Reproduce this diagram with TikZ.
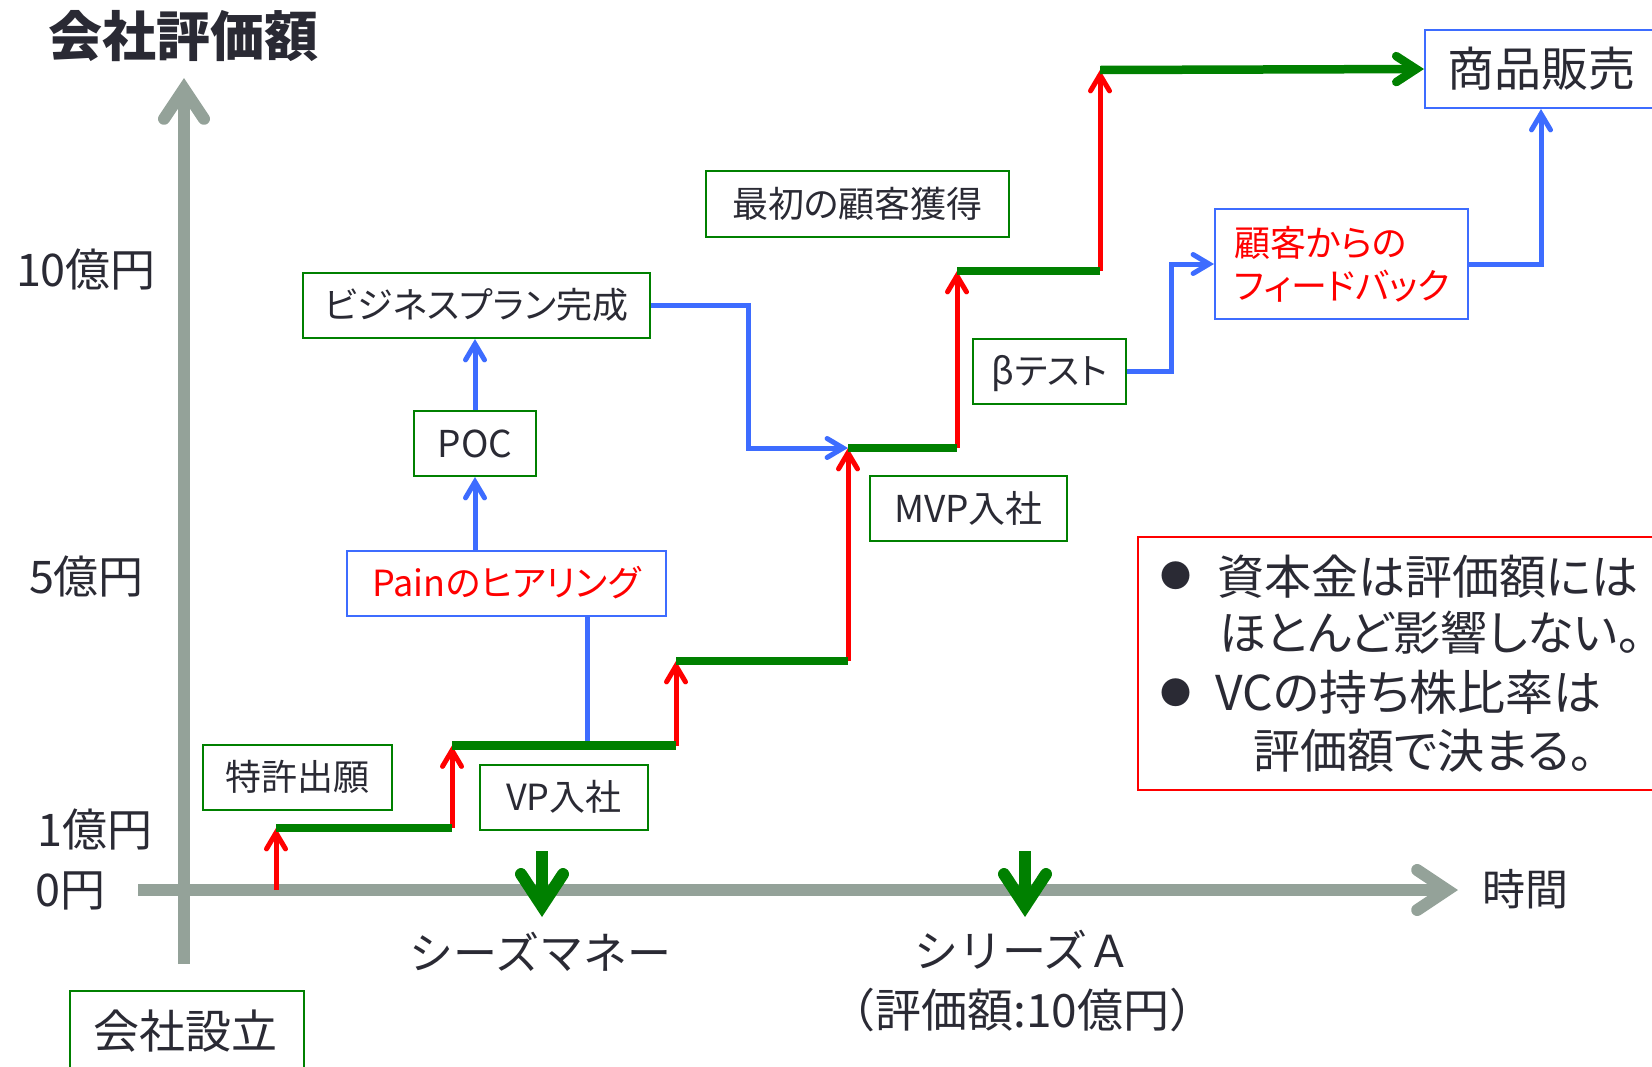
\documentclass[tikz,border=0pt]{standalone}
\usepackage{fontspec}
\setmainfont{Noto Sans CJK JP}[RawFeature=+palt]
\newfontfamily\fullw{Noto Sans CJK JP}
\usetikzlibrary{arrows.meta}
\definecolor{axisgray}{RGB}{148,162,153}
\definecolor{stepgreen}{RGB}{0,128,0}
\definecolor{myred}{RGB}{255,0,0}
\definecolor{myblue}{RGB}{61,108,255}
\definecolor{txt}{RGB}{42,42,52}
\newcommand{\fsz}[1]{\fontsize{#1pt}{#1pt}\selectfont}
\tikzset{
  fs/.code={%
    \pgfmathsetlengthmacro\fsH{0.85*#1}%
    \pgfmathsetlengthmacro\fsD{0.11*#1}%
    \edef\fstmp{\noexpand\pgfkeysalso{text height=\fsH, text depth=\fsD}}\fstmp
    \pgfkeysalso{font=\fsz{#1}}},
  lbl/.style={inner sep=0pt, text=txt},
  gbox/.style={lbl, draw=stepgreen, line width=2pt, fill=white, fs=36},
  bbox/.style={lbl, draw=myblue, line width=2pt, fill=white, fs=36},
  rbox/.style={lbl, draw=myred, line width=2pt, fill=white},
  axisline/.style={draw=axisgray, line width=12pt, -{Straight Barb[length=30pt,width=40pt,line cap=round,line join=miter]}},
  steparrow/.style={draw=stepgreen, line width=8.5pt, -{Straight Barb[length=20pt,width=26pt,line cap=round,line join=miter]}},
  stepline/.style={draw=stepgreen, line width=8.5pt},
  raise/.style={draw=myred, line width=5pt, -{Straight Barb[length=16pt,width=19pt,line cap=round,line join=miter]}},
  flow/.style={draw=myblue, line width=5pt, line join=miter, -{Straight Barb[length=16pt,width=19pt,line cap=round,line join=miter]}},
  flowplain/.style={draw=myblue, line width=5pt},
  roundmark/.style={draw=stepgreen, line width=12pt, -{Straight Barb[length=32pt,width=42pt,line cap=round,line join=miter]}},
}
\begin{document}
\begin{tikzpicture}[x=1pt,y=-1pt]
\useasboundingbox (0,0) rectangle (1652,1066);
\clip (0,0) rectangle (1652,1066);

% axes
\coordinate (yaxB) at (184,964);
\coordinate (yaxT) at (184,78);
\coordinate (xaxL) at (138,890);
\coordinate (xaxR) at (1458,890);
\draw[axisline] (yaxB) -- (yaxT);
\draw[axisline] (xaxL) -- (xaxR);

% labels on axes
\node[lbl, fs=54, font=\bfseries\fsz{54}] (title) at (183,37) {会社評価額};
\node[lbl, fs=45] (y10) at (86,270) {10億円};
\node[lbl, fs=45] (y5) at (86.5,577) {5億円};
\node[lbl, fs=45] (y1) at (95,830) {1億円};
\node[lbl, fs=45] (y0) at (70.5,890) {0円};
\node[lbl, fs=43] (jikan) at (1525,890) {時間};

% round markers
\coordinate (m1t) at (542,851);
\coordinate (m1b) at (542,917);
\coordinate (m2t) at (1025,851);
\coordinate (m2b) at (1025,917);
\draw[roundmark] (m1t) -- (m1b);
\draw[roundmark] (m2t) -- (m2b);
\node[lbl, fs=44, font=\fullw\fsz{44}] (seed) at (540.5,953) {シーズマネー};
\node[lbl, fs=44, font=\fullw\fsz{44}] (seriesA) at (1023,951) {シリーズＡ};
\node[lbl, fs=46, font=\fullw\fsz{46}] (seriesAv) at (1022.5,1010) {（評価額:10億円）};

% step coordinates
\coordinate (s0) at (276,890);
\coordinate (s1) at (276,828);
\coordinate (e1) at (452,828);
\coordinate (s2) at (452,745.5);
\coordinate (e2) at (676,745.5);
\coordinate (s3) at (676,661);
\coordinate (e3) at (848,661);
\coordinate (s4) at (848,448);
\coordinate (e4) at (957,448);
\coordinate (s5) at (957,271);
\coordinate (e5) at (1100,271);
\coordinate (s6) at (1100,70);

% boxes
\node[gbox, minimum width=189pt, minimum height=65pt] (tokkyo) at (297.5,777.5) {特許出願};
\node[gbox, minimum width=168pt, minimum height=65pt] (vp) at (564,797.5) {VP入社};
\node[bbox, minimum width=319pt, minimum height=65pt, text=myred] (pain) at (506.5,583.5) {Painのヒアリング};
\node[gbox, minimum width=122pt, minimum height=65pt, fs=37] (poc) at (475,443.5) {POC};
\node[gbox, minimum width=347pt, minimum height=65pt] (biz) at (476.5,305.5) {ビジネスプラン完成};
\node[gbox, minimum width=303pt, minimum height=66pt] (first) at (857.5,204) {最初の顧客獲得};
\node[gbox, minimum width=197pt, minimum height=65pt, fs=37] (mvp) at (968.5,508.5) {MVP入社};
\node[gbox, minimum width=153pt, minimum height=65pt] (beta) at (1049.5,371.5) {βテスト};
\node[bbox, minimum width=253pt, minimum height=110pt] (fb) at (1341.5,264) {};
\node[lbl, fs=36, text=myred, anchor=west] (fb1) at (1234,243) {顧客からの};
\node[lbl, fs=36, text=myred, anchor=west] (fb2) at (1234,286) {フィードバック};
\node[bbox, minimum width=232pt, minimum height=78pt, fs=47] (shohin) at (1541,69) {商品販売};
\node[gbox, minimum width=234pt, minimum height=90pt] (setsu) at (187,1036) {};
\node[lbl, fs=46] (setsut) at (185,1031) {会社設立};

% note box
\node[rbox, minimum width=527pt, minimum height=253pt] (note) at (1401.5,663.5) {};
\node[lbl, fs=31] (b1) at (1176,576) {●};
\node[lbl, fs=47, anchor=west] (n1) at (1217,577) {資本金は評価額には};
\node[lbl, fs=47, anchor=west] (n2) at (1219,633) {ほとんど影響しない。};
\node[lbl, fs=31] (b2) at (1176,693) {●};
\node[lbl, fs=48, anchor=west] (n3) at (1215,693) {VCの持ち株比率は};
\node[lbl, fs=47, anchor=west] (n4) at (1253,751) {評価額で決まる。};

% red raises
\draw[raise] (s0) -- (s1);
\draw[raise] (e1) -- (s2);
\draw[raise] (e2) -- (s3);
\draw[raise] (e3) -- (s4);
\draw[raise] (e4) -- (s5);
\draw[raise] (e5) -- (s6);

% blue flows
\coordinate (painstop) at (587,741);
\coordinate (bx1) at (748,0);
\coordinate (bx2) at (1171,0);
\draw[flowplain] (pain.south -| painstop) -- (painstop);
\draw[flow] (pain.north -| poc.south) -- (poc.south);
\draw[flow] (poc.north) -- (biz.south -| poc.north);
\draw[flow] (biz.east) -- (biz.east -| bx1) |- (s4);
\draw[flow] (beta.east) -- (beta.east -| bx2) |- (fb.west);
\draw[flow] (fb.east) -| (shohin.south);

% green steps
\draw[stepline] (s1) -- (e1);
\draw[stepline] (s2) -- (e2);
\draw[stepline] (s3) -- (e3);
\draw[stepline] (s4) -- (e4);
\draw[stepline] (s5) -- (e5);
\draw[steparrow] (s6) -- (shohin.west);
\end{tikzpicture}
\end{document}
